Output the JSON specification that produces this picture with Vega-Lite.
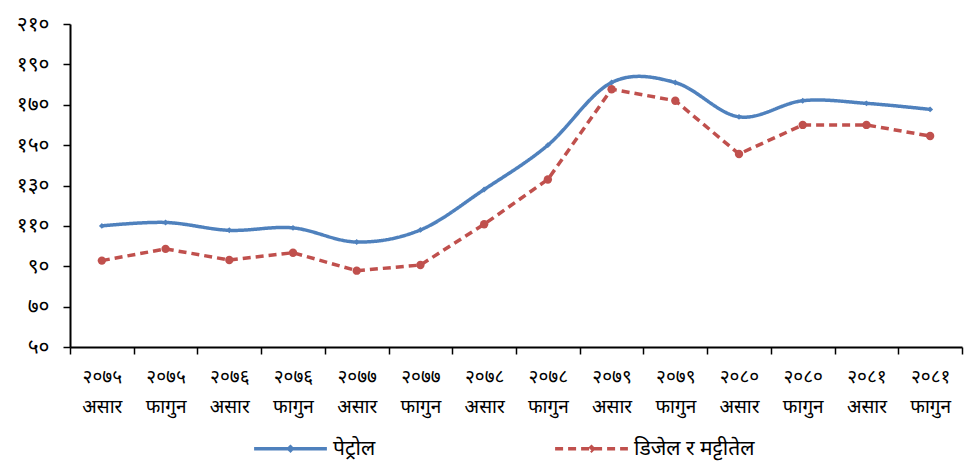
{
  "$schema": "https://vega.github.io/schema/vega-lite/v6.json",
  "width": 892,
  "height": 323,
  "autosize": {"type": "none"},
  "padding": {"left": 70, "top": 24, "right": 2, "bottom": 114},
  "background": "white",
  "data": {
    "values": [
      {"period": "२०७५ असार", "fuel": "पेट्रोल", "price": 110},
      {"period": "२०७५ फागुन", "fuel": "पेट्रोल", "price": 111.7},
      {"period": "२०७६ असार", "fuel": "पेट्रोल", "price": 107.8},
      {"period": "२०७६ फागुन", "fuel": "पेट्रोल", "price": 109},
      {"period": "२०७७ असार", "fuel": "पेट्रोल", "price": 102},
      {"period": "२०७७ फागुन", "fuel": "पेट्रोल", "price": 108},
      {"period": "२०७८ असार", "fuel": "पेट्रोल", "price": 128},
      {"period": "२०७८ फागुन", "fuel": "पेट्रोल", "price": 150},
      {"period": "२०७९ असार", "fuel": "पेट्रोल", "price": 181},
      {"period": "२०७९ फागुन", "fuel": "पेट्रोल", "price": 181},
      {"period": "२०८० असार", "fuel": "पेट्रोल", "price": 164},
      {"period": "२०८० फागुन", "fuel": "पेट्रोल", "price": 172},
      {"period": "२०८१ असार", "fuel": "पेट्रोल", "price": 170.7},
      {"period": "२०८१ फागुन", "fuel": "पेट्रोल", "price": 167.7},
      {"period": "२०७५ असार", "fuel": "डिजेल र मट्टीतेल", "price": 92.8},
      {"period": "२०७५ फागुन", "fuel": "डिजेल र मट्टीतेल", "price": 98.6},
      {"period": "२०७६ असार", "fuel": "डिजेल र मट्टीतेल", "price": 93.1},
      {"period": "२०७६ फागुन", "fuel": "डिजेल र मट्टीतेल", "price": 96.7},
      {"period": "२०७७ असार", "fuel": "डिजेल र मट्टीतेल", "price": 87.8},
      {"period": "२०७७ फागुन", "fuel": "डिजेल र मट्टीतेल", "price": 90.6},
      {"period": "२०७८ असार", "fuel": "डिजेल र मट्टीतेल", "price": 110.8},
      {"period": "२०७८ फागुन", "fuel": "डिजेल र मट्टीतेल", "price": 133},
      {"period": "२०७९ असार", "fuel": "डिजेल र मट्टीतेल", "price": 177.7},
      {"period": "२०७९ फागुन", "fuel": "डिजेल र मट्टीतेल", "price": 172},
      {"period": "२०८० असार", "fuel": "डिजेल र मट्टीतेल", "price": 145.6},
      {"period": "२०८० फागुन", "fuel": "डिजेल र मट्टीतेल", "price": 160},
      {"period": "२०८१ असार", "fuel": "डिजेल र मट्टीतेल", "price": 160},
      {"period": "२०८१ फागुन", "fuel": "डिजेल र मट्टीतेल", "price": 154.5}
    ]
  },
  "encoding": {
    "x": {
      "field": "period",
      "type": "nominal",
      "sort": null,
      "scale": {"paddingInner": 0, "paddingOuter": 0},
      "axis": {
        "title": null,
        "labelAngle": 0,
        "labelExpr": "split(datum.label, ' ')",
        "labelFont": "Noto Sans",
        "labelFontSize": 19,
        "labelColor": "black",
        "labelLineHeight": 30,
        "labelPadding": 13,
        "domainColor": "black",
        "domainWidth": 2,
        "tickColor": "black",
        "tickWidth": 1.5,
        "tickSize": 7,
        "tickBand": "extent",
        "grid": false
      }
    },
    "y": {
      "field": "price",
      "type": "quantitative",
      "scale": {"domain": [50, 210], "nice": false, "zero": false},
      "axis": {
        "title": null,
        "values": [50, 70, 90, 110, 130, 150, 170, 190, 210],
        "labelExpr": "replace(replace(replace(replace(replace(replace(replace(replace(replace(replace(datum.label, regexp('0','g'), '०'), regexp('1','g'), '१'), regexp('2','g'), '२'), regexp('3','g'), '३'), regexp('4','g'), '४'), regexp('5','g'), '५'), regexp('6','g'), '६'), regexp('7','g'), '७'), regexp('8','g'), '८'), regexp('9','g'), '९')",
        "labelFont": "Noto Sans",
        "labelFontSize": 21,
        "labelColor": "black",
        "labelPadding": 14,
        "domainColor": "black",
        "domainWidth": 2,
        "tickColor": "black",
        "tickWidth": 1.5,
        "tickSize": 7,
        "grid": false
      }
    }
  },
  "layer": [
    {
      "transform": [{"filter": "datum.fuel == 'पेट्रोल'"}],
      "mark": {"type": "line", "interpolate": "cardinal", "strokeWidth": 3.5},
      "encoding": {
        "color": {"field": "fuel", "type": "nominal", "scale": {"domain": ["पेट्रोल", "डिजेल र मट्टीतेल"], "range": ["#4F81BD", "#C0504D"]}, "legend": {"title": null}},
        "strokeDash": {"field": "fuel", "type": "nominal", "scale": {"domain": ["पेट्रोल", "डिजेल र मट्टीतेल"], "range": [[1, 0], [8, 5]]}, "legend": {"title": null}}
      }
    },
    {
      "transform": [{"filter": "datum.fuel != 'पेट्रोल'"}],
      "mark": {"type": "line", "interpolate": "linear", "strokeWidth": 3.5},
      "encoding": {
        "color": {"field": "fuel", "type": "nominal"},
        "strokeDash": {"field": "fuel", "type": "nominal"}
      }
    },
    {
      "transform": [{"filter": "datum.fuel == 'पेट्रोल'"}],
      "mark": {"type": "point", "shape": "diamond", "filled": true, "color": "#4F81BD", "size": 35, "opacity": 1}
    },
    {
      "transform": [{"filter": "datum.fuel != 'पेट्रोल'"}],
      "mark": {"type": "point", "shape": "circle", "filled": true, "color": "#C0504D", "size": 70, "opacity": 1}
    }
  ],
  "config": {
    "view": {"stroke": null},
    "legend": {
      "orient": "none",
      "legendX": 182,
      "legendY": 386,
      "direction": "horizontal",
      "symbolType": "M-1,0H1M-0.05,0L0,-0.05L0.05,0L0,0.05Z",
      "symbolSize": 5300,
      "symbolStrokeWidth": 3.5,
      "labelFont": "Noto Sans",
      "labelFontSize": 21,
      "labelColor": "black",
      "columnPadding": 172,
      "labelOffset": 4
    }
  }
}
